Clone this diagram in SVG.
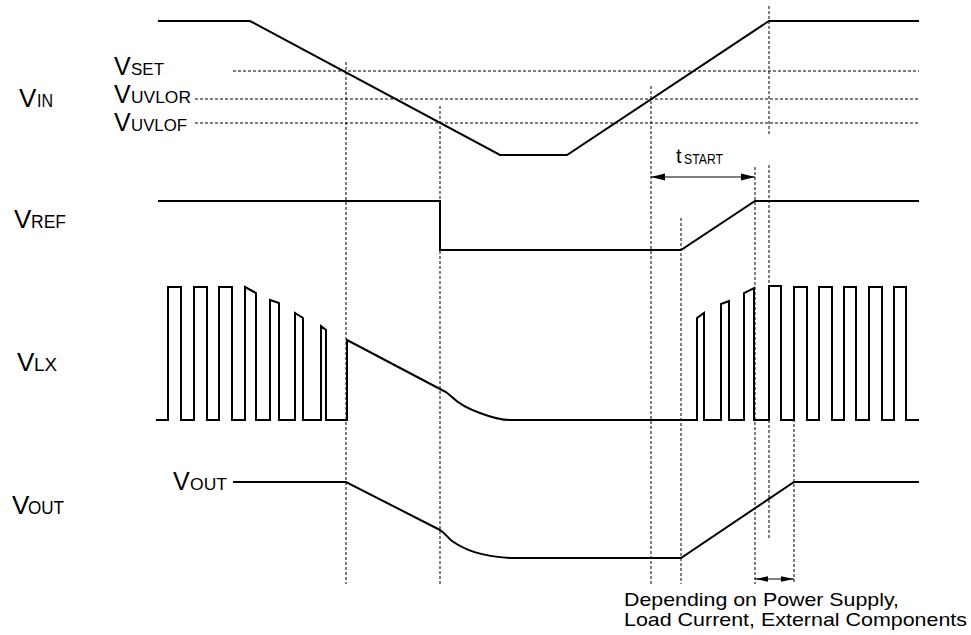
<svg xmlns="http://www.w3.org/2000/svg" width="971" height="635" viewBox="0 0 971 635">
<style>
.w{fill:none;stroke:#000;stroke-width:2;stroke-linejoin:miter}
.d{fill:none;stroke:#000;stroke-width:1;stroke-dasharray:3,2}
.a{fill:none;stroke:#000;stroke-width:1}
text{font-family:"Liberation Sans",Arial,sans-serif;fill:#000}
.big{font-size:26px}
.bs{font-size:18px}
.mid{font-size:25px}
.ms{font-size:16.5px}
.note{font-size:17.8px}
</style>
<defs>
<marker id="ah" markerWidth="14" markerHeight="8" refX="14" refY="4" orient="auto-start-reverse" markerUnits="userSpaceOnUse">
<path d="M0,0.5 L14,4 L0,7.5 Z" fill="#000"/>
</marker>
<marker id="ah2" markerWidth="13" markerHeight="6" refX="13" refY="3" orient="auto-start-reverse" markerUnits="userSpaceOnUse">
<path d="M0,0.3 L13,3 L0,5.7 Z" fill="#000"/>
</marker>
</defs>
<rect width="971" height="635" fill="#fff"/>

<g id="guides">
<line class="d" x1="233" y1="71" x2="919" y2="71"/>
<line class="d" x1="195" y1="99" x2="919" y2="99"/>
<line class="d" x1="195" y1="123" x2="919" y2="123"/>
<line class="d" x1="346" y1="62" x2="346" y2="584"/>
<line class="d" x1="440" y1="106" x2="440" y2="584"/>
<line class="d" x1="651" y1="86" x2="651" y2="584"/>
<line class="d" x1="681" y1="218" x2="681" y2="584"/>
<line class="d" x1="769" y1="6" x2="769" y2="134"/>
<line class="d" x1="755" y1="167" x2="755" y2="584"/>
<line class="d" x1="769" y1="165" x2="769" y2="540"/>
<line class="d" x1="794" y1="419" x2="794" y2="584"/>
</g>

<g id="labels">
<text class="big" x="19" y="107">V</text><text class="bs" x="37" y="107" textLength="16" lengthAdjust="spacingAndGlyphs">IN</text>
<text class="big" x="14" y="228">V</text><text class="bs" x="31" y="228" textLength="35" lengthAdjust="spacingAndGlyphs">REF</text>
<text class="big" x="17" y="371">V</text><text class="bs" x="34" y="371" textLength="23" lengthAdjust="spacingAndGlyphs">LX</text>
<text class="big" x="12" y="514">V</text><text class="bs" x="28" y="514" textLength="36" lengthAdjust="spacingAndGlyphs">OUT</text>
</g>

<g id="vin">
<path class="w" d="M158,21 H250 L500,155 H567 L769,21 H919"/>
<text class="mid" x="114" y="75">V</text><text class="ms" x="131" y="75" textLength="33" lengthAdjust="spacingAndGlyphs">SET</text>
<text class="mid" x="114" y="103">V</text><text class="ms" x="131" y="103" textLength="60" lengthAdjust="spacingAndGlyphs">UVLOR</text>
<text class="mid" x="114" y="131">V</text><text class="ms" x="131" y="131" textLength="56" lengthAdjust="spacingAndGlyphs">UVLOF</text>
</g>

<g id="vref">
<path class="w" d="M158,201 H440 V250 H681 L755,201 H919"/>
</g>

<g id="vlx">
<path class="w" d="M156,420 H168 V287 H181 V420 H194 V287 H207 V420 H219 V287 H232 V420 H245 V287 L256,293 V420 H270 V300 L279,303 V420 H295 V313 L303,318 V420 H321 V326 L326,330 V420 H347 V340 L440,389 L446,392 L452,397 C458,403 466,408 480,413 C493,418 500,420 510,420 H697 V318 L704,313 V420 H721 V304 L729,301 V420 H744 V293 L754,288 V420 H769 V286 H781 V420 H794 V287 H807 V420 H819 V287 H832 V420 H844 V287 H856 V420 H869 V287 H882 V420 H894 V287 H906 V420 H919"/>
</g>

<g id="vout">
<path class="w" d="M233,482 H346 L440,530 C445,533 448,538 452,541 C465,550 480,556 510,558 H681 L794,482 H919"/>
<text class="mid" x="173" y="490">V</text><text class="ms" x="190" y="490" textLength="37" lengthAdjust="spacingAndGlyphs">OUT</text>
</g>

<g id="connectors">
<line class="a" x1="651" y1="177" x2="755" y2="177" marker-start="url(#ah)" marker-end="url(#ah)"/>
<line class="a" x1="755" y1="579" x2="794" y2="579" marker-start="url(#ah2)" marker-end="url(#ah2)"/>
</g>

<g id="tstart">
<text x="676" y="163" style="font-size:20px">t</text><text x="684" y="164" style="font-size:14px" textLength="39" lengthAdjust="spacingAndGlyphs">START</text>
</g>

<g id="note">
<text class="note" x="624" y="606" textLength="275" lengthAdjust="spacingAndGlyphs">Depending on Power Supply,</text>
<text class="note" x="624" y="626" textLength="343" lengthAdjust="spacingAndGlyphs">Load Current, External Components</text>
</g>
</svg>
